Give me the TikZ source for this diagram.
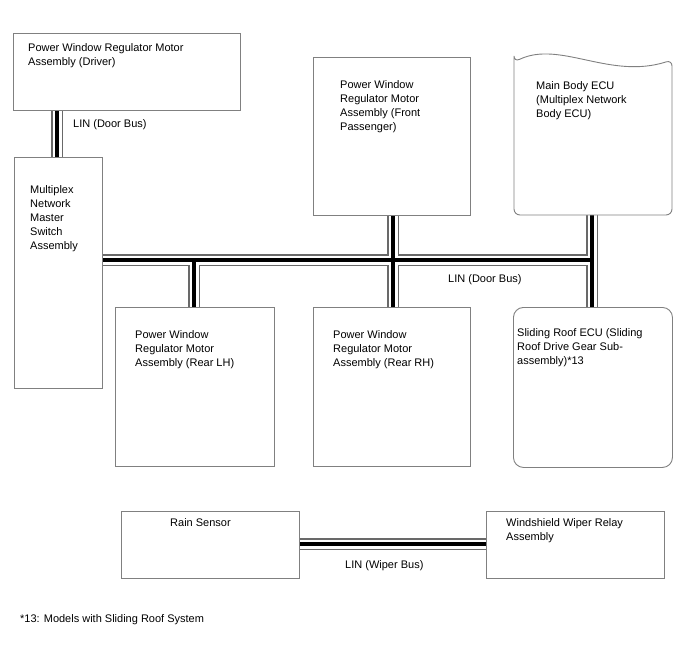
\documentclass[tikz,border=0pt]{standalone}
\usepackage{fontspec}
\setmainfont{Liberation Sans}
\usetikzlibrary{backgrounds}
\definecolor{edge}{RGB}{128,128,128}
\definecolor{busgray}{RGB}{105,105,105}
\begin{document}
\begin{tikzpicture}[x=1pt,y=-1pt,
  box/.style={draw=edge, line width=0.9pt, fill=white, inner sep=0pt, anchor=north west},
  txt/.style={inner sep=0pt, anchor=north west, align=left, font=\fontsize{11}{14}\selectfont},
  bus/.style={draw=white, line width=9pt, preaction={draw=busgray, line width=12pt}, postaction={draw=black, line width=4pt}}]
\useasboundingbox (0,0) rectangle (688,658);
% boxes
\node[box, minimum width=227pt, minimum height=77pt] (drv) at (13,33) {};
\node[box, minimum width=88pt, minimum height=231pt] (mms) at (14,157) {};
\node[box, minimum width=157pt, minimum height=158pt] (fp) at (313,57) {};
\node[inner sep=0pt, anchor=north west, minimum width=158pt, minimum height=154pt] (mb) at (514,61) {};
\draw[draw=edge, line width=0.9pt, fill=white, rounded corners=6pt] (514,62) -- (514,215) -- (672,215) -- (672,60) .. controls (610,80) and (560,40) .. (514,62) -- cycle;
\node[box, minimum width=159pt, minimum height=159pt] (rlh) at (115,307) {};
\node[box, minimum width=157pt, minimum height=159pt] (rrh) at (313,307) {};
\node[box, rounded corners=10pt, minimum width=159pt, minimum height=160pt] (sr) at (513,307) {};
\node[box, minimum width=178pt, minimum height=67pt] (rain) at (121,511) {};
\node[box, minimum width=178pt, minimum height=67pt] (wiper) at (486,511) {};
% texts
\node[txt] (tdrv) at (28,43) {Power Window Regulator Motor\\Assembly (Driver)};
\node[txt] (tmms) at (30,185) {Multiplex\\Network\\Master\\Switch\\Assembly};
\node[txt] (tfp) at (340,80) {Power Window\\Regulator Motor\\Assembly (Front\\Passenger)};
\node[txt] (tmb) at (536,81) {Main Body ECU\\(Multiplex Network\\Body ECU)};
\node[txt] (trlh) at (135,330) {Power Window\\Regulator Motor\\Assembly (Rear LH)};
\node[txt] (trrh) at (333,330) {Power Window\\Regulator Motor\\Assembly (Rear RH)};
\node[txt] (tsr) at (517,328) {Sliding Roof ECU (Sliding\\Roof Drive Gear Sub-\\assembly)*13};
\node[txt] (train) at (170,518) {Rain Sensor};
\node[txt] (twiper) at (506,518) {Windshield Wiper Relay\\Assembly};
\node[txt] (lin1) at (73,119) {LIN (Door Bus)};
\node[txt] (lin2) at (448,274) {LIN (Door Bus)};
\node[txt] (lin3) at (345,560) {LIN (Wiper Bus)};
\node[txt] (note) at (20,614) {*13: Models with Sliding Roof System};
% bus coordinates
\coordinate (xd) at (57,0);
\coordinate (xl) at (194,0);
\coordinate (xc) at (393,0);
\coordinate (xr) at (592,0);
\coordinate (yh) at (0,260);
\coordinate (yw) at (0,544);
\begin{pgfonlayer}{background}
\draw[bus] (xd |- drv.south) -- (xd |- mms.north)
  (mms.east |- yh) -- (xr |- yh)
  (xl |- yh) -- (xl |- rlh.north)
  (xc |- fp.south) -- (xc |- rrh.north)
  (xr |- mb.south) -- (xr |- sr.north)
  (rain.east |- yw) -- (wiper.west |- yw);
\end{pgfonlayer}
\end{tikzpicture}
\end{document}
